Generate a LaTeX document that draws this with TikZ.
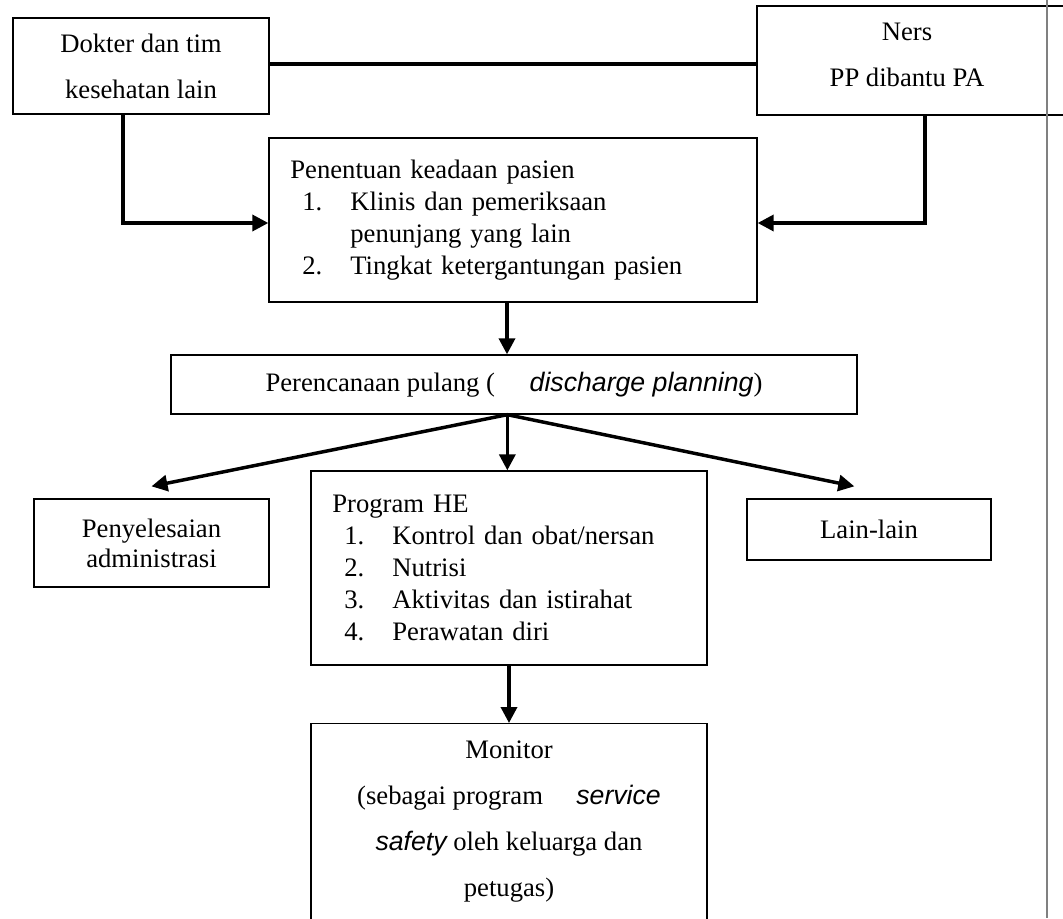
\documentclass[tikz,border=0pt]{standalone}
\usepackage{fontspec}
\setmainfont{Liberation Serif}
\newfontfamily\arial{Liberation Sans}
\usepackage{tikz}
\usetikzlibrary{
	arrows.meta,
	positioning
}

\newcommand{\butir}[1]{\hspace*{9pt}\makebox[36pt][l]{#1}}
\newcommand{\lanjut}{\hspace*{45pt}}

\begin{document}
\begin{tikzpicture}[x=0.75pt, y=-0.75pt,
	kotak/.style={draw, line width=1pt, inner sep=0pt, align=center, font=\fontsize{20}{24}\selectfont},
	daftar/.style={kotak, align=left, inner xsep=16pt},
	garis/.style={line width=2.6pt},
	panah/.style={garis, -{Triangle[length=12pt, width=12pt]}},
	teks/.style={inner sep=0pt, align=center}
]
	\useasboundingbox (0,0) rectangle (1063,918);
	\node[kotak, minimum width=192pt, minimum height=72pt, font=\fontsize{20}{34.5}\selectfont] (dokter) at (141,66) {Dokter dan tim\\kesehatan lain};
	\node[kotak, minimum width=234.75pt, minimum height=81.75pt] (ners) at (913.5,60.5) {};
	\node[teks, font=\fontsize{20}{34.5}\selectfont] (nersteks) at (907,55) {Ners\\PP dibantu PA};
	\node[daftar, text width=334pt, minimum width=366pt, minimum height=123pt] (penentuan) at (513,220) {Penentuan keadaan pasien\\
		\butir{1.}Klinis dan pemeriksaan\\
		\lanjut penunjang yang lain\\
		\butir{2.}Tingkat ketergantungan pasien};
	\node[kotak, minimum width=514.5pt, minimum height=44.25pt] (pulang) at (514,384.5) {Perencanaan pulang (\hspace{26pt}{\arial\itshape discharge planning})};
	\node[kotak, minimum width=176.25pt, minimum height=66pt, font=\fontsize{20}{22.5}\selectfont] (admin) at (151.5,543) {Penyelesaian\\administrasi};
	\node[daftar, text width=265pt, minimum width=297pt, minimum height=145.5pt] (he) at (509,568) {Program HE\\
		\butir{1.}Kontrol dan obat/nersan\\
		\butir{2.}Nutrisi\\
		\butir{3.}Aktivitas dan istirahat\\
		\butir{4.}Perawatan diri};
	\node[kotak, minimum width=183pt, minimum height=45.75pt] (lain) at (869,529.5) {Lain-lain};
	\node[kotak, anchor=north, minimum width=297pt, minimum height=162.75pt] (monitor) at (509,723) {};
	\node[teks, font=\fontsize{20}{34.5}\selectfont, below=13.5pt of monitor.north] (monitorteks) {Monitor\\
		(sebagai program\hspace{25pt}{\arial\itshape service}\\
		{\arial\itshape safety} oleh keluarga dan\\
		petugas)};
	% garis antar kotak
	\draw[garis] ([yshift=1.5pt]dokter.east) -- ([yshift=1.5pt]dokter.east -| ners.west);
	\draw[panah] ([xshift=-13.5pt]dokter.south) |- ([yshift=-2.25pt]penentuan.west);
	\draw[panah] ([xshift=8.6pt]ners.south) |- ([yshift=-2.25pt]penentuan.east);
	\draw[panah] ([xshift=-4.5pt]penentuan.south) -- ([xshift=-4.5pt]penentuan.south |- pulang.north);
	\coordinate (cabang) at ([xshift=-5pt]pulang.south);
	\draw[panah] (cabang) -- ([yshift=9pt]admin.north);
	\draw[panah] (cabang) -- (cabang |- he.north);
	\draw[panah] (cabang) -- ([xshift=-11pt, yshift=9pt]lain.north);
	\draw[panah] (he.south) -- (he.south |- monitor.north);
	% garis tepi kanan
	\draw[line width=1.5pt, gray] (1047,0) -- (1047,918);
\end{tikzpicture}
\end{document}
